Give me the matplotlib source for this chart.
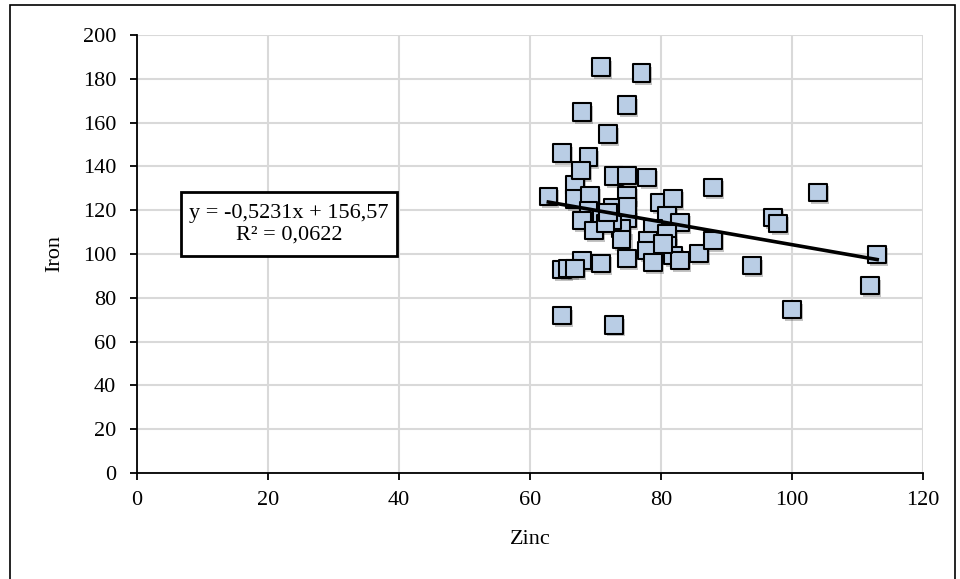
import matplotlib.pyplot as plt
import matplotlib.patheffects as pe
from matplotlib.patches import Rectangle
import numpy as np

plt.rcParams['font.family'] = ['Liberation Serif', 'DejaVu Serif']

# values
zinc = [62.8, 66.9, 66.9, 69.2, 68.9, 67.9, 71.0, 69.8, 72.8, 74.8, 77.9,
        74.8, 72.7, 74.8, 73.9, 74.0, 79.8, 81.8, 80.9, 82.9, 78.8, 80.9,
        78.0, 80.9, 77.9, 81.8, 82.9, 78.8, 85.8, 87.9, 87.9, 74.8, 70.8,
        67.9, 64.9, 65.8, 66.9, 64.9, 72.8, 70.8, 77.0, 74.8, 67.9, 71.9,
        64.9, 68.9, 67.8, 104.0, 97.1, 97.9, 93.9, 113.0, 111.9, 100.0,
        72.5, 71.5, 71.9, 74.9, 80.3]
iron = [126.3, 131.4, 125.0, 126.8, 119.9, 115.3, 116.2, 110.8, 135.5, 135.9, 135.0,
        126.8, 121.3, 116.2, 111.7, 106.6, 123.6, 125.4, 117.6, 114.4, 111.7, 109.4,
        106.2, 103.9, 101.6, 99.3, 97.0, 96.1, 100.2, 106.2, 130.4, 97.9, 95.7,
        97.0, 92.9, 93.4, 93.4, 71.9, 67.7, 185.3, 182.6, 168.0, 164.8, 154.7,
        146.0, 144.2, 138.2, 128.1, 116.7, 114.0, 94.7, 99.8, 85.6, 74.6,
        115.3, 114.0, 119.0, 121.5, 104.5]

slope = -0.5231
intercept = 156.57
eq_text = "y = -0,5231x + 156,57\nR² = 0,0622"

fig = plt.figure(figsize=(9.6, 5.79), dpi=100)
ax = fig.add_axes([137/960, 1-473/579, (923-137)/960, (473-35)/579])

ax.scatter(zinc, iron, marker='s', s=160, facecolor='#B9CDE5', edgecolor='black',
           linewidth=1.5, zorder=3,
           path_effects=[pe.SimplePatchShadow(offset=(1.5, -2), shadow_rgbFace='#555555', alpha=0.35),
                         pe.Normal()])

xs = np.array([min(zinc), max(zinc)])
ax.plot(xs, slope*xs + intercept, color='black', lw=2.6, zorder=4)

ax.set_xlim(0, 120)
ax.set_ylim(0, 200)
ax.set_xticks(range(0, 121, 20))
ax.set_yticks(range(0, 201, 20))
ax.grid(True, color='#D9D9D9', lw=1.5)
ax.set_axisbelow(True)
for s in ['top', 'right']:
    ax.spines[s].set_visible(False)
for s in ['left', 'bottom']:
    ax.spines[s].set_linewidth(1.3)
ax.tick_params(axis='y', direction='out', length=5, width=1.3, labelsize=16, pad=10)
ax.tick_params(axis='x', direction='out', length=5, width=1.3, labelsize=16, pad=8)
ax.set_xlabel('Zinc', fontsize=16, labelpad=14)
ax.set_ylabel('Iron', fontsize=16)
ax.yaxis.set_label_coords(-0.093, 0.5)

# equation box
fig.patches.append(Rectangle((181/960, 1-256/579), (397-181)/960, (256-192)/579,
                             transform=fig.transFigure, fill=True, facecolor='white',
                             edgecolor='black', lw=2, zorder=5))
fig.text(289/960, 1-224/579, eq_text, ha='center', va='center', multialignment='center',
         fontsize=16, linespacing=1.15, zorder=6)

# outer frame
fig.patches.append(Rectangle((10/960, -0.05), (955-10)/960, 1.05-5/579,
                             transform=fig.transFigure, fill=False,
                             edgecolor='black', lw=1.2))

fig.savefig('out.png', dpi=100)
